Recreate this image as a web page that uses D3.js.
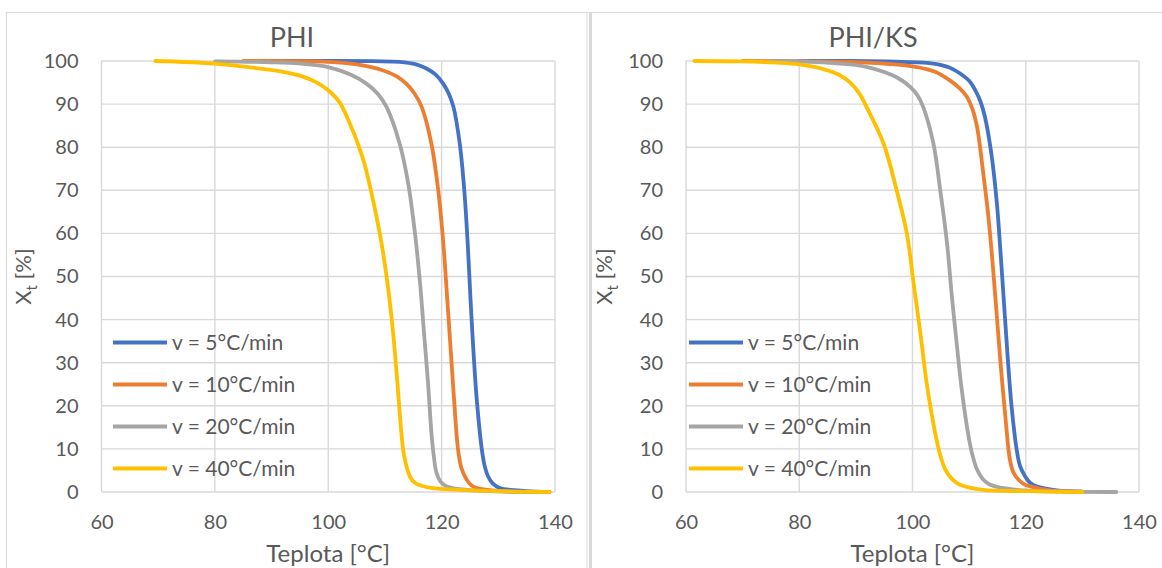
<!DOCTYPE html>
<html><head><meta charset="utf-8">
<script src="https://cdn.jsdelivr.net/npm/d3@7"></script>
<style>
body{margin:0;background:#fff;}
svg{display:block;font-family:Lato,"Open Sans",sans-serif;}
</style></head>
<body><svg id="c" width="1162" height="568"></svg>
<script>
// ---------- DATA ----------
const seriesNames = ["v = 5°C/min","v = 10°C/min","v = 20°C/min","v = 40°C/min"];
const seriesColors = ["#4472C4","#ED7D31","#A5A5A5","#FFC000"];
const xTicks = [60,80,100,120,140];
const yTicks = [0,10,20,30,40,50,60,70,80,90,100];

// PHI panel: [temperature, Xt]
const phi5  = [[90,100],[100,100],[108,99.95],[112.6,99.8],[115.5,99.2],[117.4,98.2],[119,96.8],[120.3,94.7],[121.3,92.3],[122.1,89.3],[123.2,80.8],[124,70],[124.6,57.7],[125.1,44.6],[125.6,33],[126.2,21.4],[127.1,9.8],[127.6,6],[128.2,3.6],[129,2],[130.3,0.9],[135,0.2],[139,0]];
const phi10 = [[85,100],[100,99.8],[105,99.2],[109.7,97.8],[112,96.5],[113.8,94.7],[115.3,92.3],[116.5,89.3],[118.2,80.8],[119.4,70],[120.3,57.7],[121,44.6],[121.6,33],[122.2,21.4],[122.9,9.8],[123.5,5.5],[124.4,2.9],[125.2,1.6],[126.2,0.9],[130.3,0.2],[139,0]];
const phi20 = [[80,99.9],[90,99.7],[95,99.4],[100,98.6],[104,96.8],[106.8,94.7],[108.8,92.3],[110.3,89.3],[112.6,80.8],[114.1,71.6],[115.3,60],[116.2,48.4],[116.9,36.8],[117.6,25.3],[118.2,13.7],[118.6,8.5],[119.1,4.4],[119.8,2.4],[120.9,1.3],[124.4,0.5],[139,0]];
const phi40 = [[69.5,100],[80,99.4],[87.6,98.3],[92,97.5],[95,96.6],[98,95],[100,93.2],[102,90.4],[103.8,85.5],[106.2,77],[107.9,67.7],[109.4,57.7],[110.6,46.9],[111.5,36.1],[112.2,25.3],[112.9,13.7],[113.3,9],[113.8,6],[114.4,3.6],[115.3,2.1],[116.6,1.4],[118.5,0.9],[125,0.4],[139,0]];

// PHI/KS panel
const ks5  = [[80,100],[89,100],[98,99.8],[103.7,99.4],[106.5,98.5],[108.4,97.1],[110,95.4],[111.1,93.2],[112,90.6],[112.8,87],[114,77.8],[114.9,67],[115.6,54.6],[116.2,43],[116.8,31.4],[117.5,19.8],[118.4,9.8],[119,6],[119.9,3.6],[120.8,2.1],[121.9,1.3],[125.5,0.4],[130,0.1]];
const ks10 = [[70,100],[80,99.95],[89,99.8],[96,99.3],[100.8,98.6],[104,97.5],[106.6,95.5],[108.3,93.7],[109.6,91.7],[110.6,88.8],[111.4,84.7],[112.5,73.9],[113.4,63.9],[114.2,52.3],[114.9,40.7],[115.6,29.1],[116.4,17.5],[117.2,7.5],[117.8,4.6],[118.7,2.9],[119.6,1.9],[120.8,1.3],[124.3,0.4],[130,0.1]];
const ks20 = [[75,100],[82,99.8],[89,99.2],[92,98.6],[94.9,97.5],[97.5,96],[99.6,94],[100.9,92],[101.9,89.3],[103.7,80.8],[104.9,70],[106.1,57.7],[106.9,46.1],[107.8,34.5],[108.7,23.7],[109.9,12.9],[110.6,8.5],[111.4,5.2],[112.4,3],[113.7,1.7],[118.4,0.5],[128,0.1],[136,0]];
const ks40 = [[61.5,100],[70,99.9],[76,99.6],[80,99.2],[84,98.2],[87,96.8],[89,95],[90.6,92.5],[91.9,89.3],[94.9,80.8],[97.2,70],[99,60],[100.2,48.4],[101.4,36.8],[102.5,25.3],[104,13.7],[104.8,9],[105.8,5.2],[107,3],[108.4,1.7],[112.5,0.5],[120,0.2],[130,0]];

const panels = [
  {title:"PHI", series:[phi5,phi10,phi20,phi40], x0:101.5, x1:555, titleX:292, yTitleX:31, legX:113},
  {title:"PHI/KS", series:[ks5,ks10,ks20,ks40], x0:686, x1:1139, titleX:873, yTitleX:612, legX:689}
];
const plotTop = 61, plotBottom = 492;
const textColor = "#595959", gridColor = "#d9d9d9";

const svg = d3.select("#c");

// frames
svg.append("line").attr("x1",6).attr("x2",1162).attr("y1",12.5).attr("y2",12.5).attr("stroke",gridColor).attr("stroke-width",1.2);
svg.append("line").attr("x1",6.5).attr("x2",6.5).attr("y1",12).attr("y2",568).attr("stroke",gridColor).attr("stroke-width",1.2);
svg.append("line").attr("x1",587).attr("x2",587).attr("y1",12).attr("y2",568).attr("stroke",gridColor).attr("stroke-width",1);
svg.append("line").attr("x1",590.5).attr("x2",590.5).attr("y1",12).attr("y2",568).attr("stroke",gridColor).attr("stroke-width",3);

panels.forEach(p => {
  const x = d3.scaleLinear().domain([60,140]).range([p.x0,p.x1]);
  const y = d3.scaleLinear().domain([0,100]).range([plotBottom,plotTop]);
  const g = svg.append("g");

  // grid
  g.selectAll(".hg").data(yTicks).enter().append("line")
    .attr("x1",p.x0).attr("x2",p.x1).attr("y1",d=>y(d)).attr("y2",d=>y(d))
    .attr("stroke",gridColor).attr("stroke-width",1.4);
  g.selectAll(".vg").data(xTicks).enter().append("line")
    .attr("x1",d=>x(d)).attr("x2",d=>x(d)).attr("y1",plotTop).attr("y2",plotBottom)
    .attr("stroke",gridColor).attr("stroke-width",1.4);

  // axes (labels only)
  const ya = g.append("g").attr("transform",`translate(${p.x0},0)`)
    .call(d3.axisLeft(y).tickValues(yTicks).tickSize(0).tickPadding(23));
  const xa = g.append("g").attr("transform",`translate(0,${plotBottom})`)
    .call(d3.axisBottom(x).tickValues(xTicks).tickSize(0).tickPadding(23));
  [ya,xa].forEach(a=>{
    a.select(".domain").remove();
    a.selectAll("text").attr("fill",textColor).style("font-size","20px").style("font-family","Lato");
  });

  // lines
  const line = d3.line().x(d=>x(d[0])).y(d=>y(d[1])).curve(d3.curveCatmullRom.alpha(0.5));
  p.series.forEach((s,i)=>{
    g.append("path").datum(s).attr("d",line).attr("fill","none")
      .attr("stroke",seriesColors[i]).attr("stroke-width",3.8)
      .attr("stroke-linejoin","round").attr("stroke-linecap","round");
  });

  // title
  g.append("text").attr("x",p.titleX).attr("y",47).attr("text-anchor","middle")
    .attr("fill",textColor).style("font-size","27px").text(p.title);
  // x title
  g.append("text").attr("x",(p.x0+p.x1)/2).attr("y",562).attr("text-anchor","middle")
    .attr("fill",textColor).style("font-size","24px").text("Teplota [°C]");
  // y title
  const yt = g.append("text").attr("transform",`translate(${p.yTitleX},${(plotTop+plotBottom)/2}) rotate(-90)`)
    .attr("text-anchor","middle").attr("fill",textColor).style("font-size","22px");
  yt.append("tspan").text("X");
  yt.append("tspan").attr("dy",6).style("font-size","15px").text("t");
  yt.append("tspan").attr("dy",-6).text(" [%]");

  // legend
  seriesNames.forEach((n,i)=>{
    const ly = 342.5 + i*42;
    g.append("line").attr("x1",p.legX).attr("x2",p.legX+54).attr("y1",ly).attr("y2",ly)
      .attr("stroke",seriesColors[i]).attr("stroke-width",3.8);
    g.append("text").attr("x",p.legX+59).attr("y",ly+7).attr("fill",textColor)
      .style("font-size","21px").text(n);
  });
});
</script></body></html>
